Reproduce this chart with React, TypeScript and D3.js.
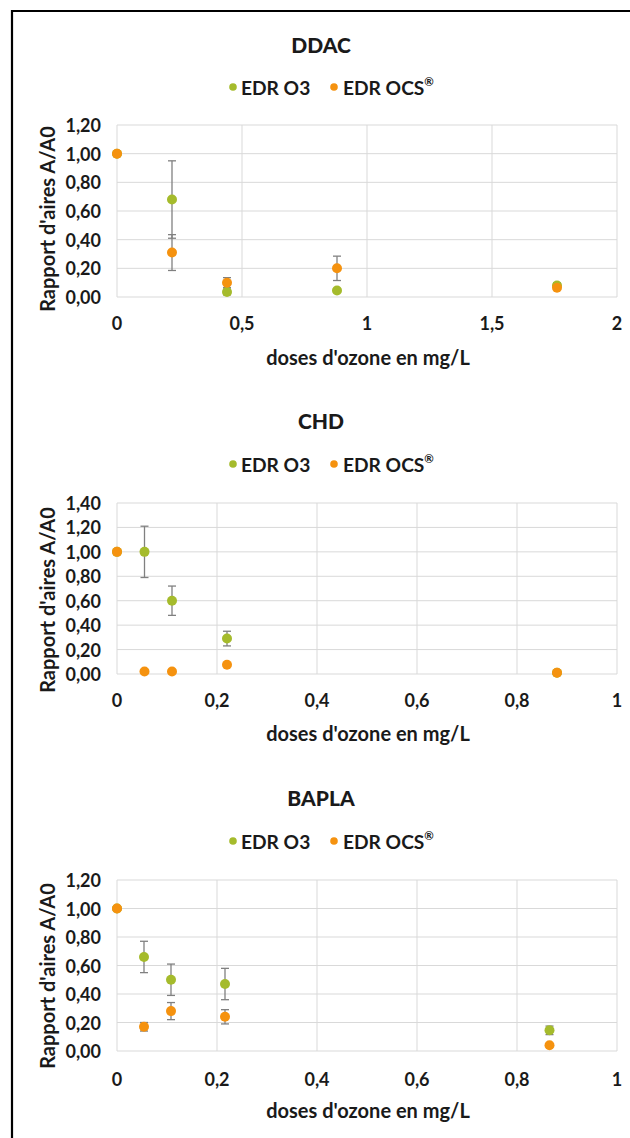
import React from "react";
import * as d3 from "d3";

// ---------- DATA ----------
const seriesNames = ["EDR O3", "EDR OCS"];

const ddacDoses = [0, 0.22, 0.44, 0.88, 1.76];
const ddacO3 = [1.0, 0.68, 0.035, 0.045, 0.08];
const ddacO3Err = [0, 0.27, 0.02, 0.01, 0.02];
const ddacOCS = [1.0, 0.31, 0.1, 0.2, 0.065];
const ddacOCSErr = [0, 0.125, 0.035, 0.085, 0.01];
const ddacXTicks = [0, 0.5, 1, 1.5, 2];
const ddacYTicks = [0, 0.2, 0.4, 0.6, 0.8, 1.0, 1.2];

const chdDoses = [0, 0.055, 0.11, 0.22, 0.88];
const chdO3 = [1.0, 1.0, 0.6, 0.29, 0.01];
const chdO3Err = [0, 0.21, 0.12, 0.06, 0];
const chdOCS = [1.0, 0.02, 0.02, 0.075, 0.01];
const chdOCSErr = [0, 0, 0, 0.01, 0];
const chdXTicks = [0, 0.2, 0.4, 0.6, 0.8, 1];
const chdYTicks = [0, 0.2, 0.4, 0.6, 0.8, 1.0, 1.2, 1.4];

const baplaDoses = [0, 0.054, 0.108, 0.216, 0.865];
const baplaO3 = [1.0, 0.66, 0.5, 0.47, 0.145];
const baplaO3Err = [0, 0.11, 0.11, 0.11, 0.03];
const baplaOCS = [1.0, 0.17, 0.28, 0.24, 0.04];
const baplaOCSErr = [0, 0.03, 0.06, 0.05, 0.01];
const baplaXTicks = [0, 0.2, 0.4, 0.6, 0.8, 1];
const baplaYTicks = [0, 0.2, 0.4, 0.6, 0.8, 1.0, 1.2];

const titles = ["DDAC", "CHD", "BAPLA"];
const xAxisTitle = "doses d'ozone en mg/L";
const yAxisTitle = "Rapport d'aires A/A0";

// ---------- STYLE / LAYOUT ----------
const W = 630;
const H = 1138;
const GREEN = "#a5bb2c";
const ORANGE = "#f5920f";
const GRID = "#d9d9d9";
const ERR = "#808080";
const FONT = "Lato, 'Open Sans', sans-serif";
const TEXT = "#1a1a1a";

const plotLeft = 117;
const plotRight = 617;

const panels = [
  {
    title: titles[0],
    doses: ddacDoses, o3: ddacO3, o3e: ddacO3Err, ocs: ddacOCS, ocse: ddacOCSErr,
    xTicks: ddacXTicks, yTicks: ddacYTicks,
    top: 125, bottom: 297, titleY: 44, legendY: 87, tickY: 323, xTitleY: 357, yTitleY: 219,
  },
  {
    title: titles[1],
    doses: chdDoses, o3: chdO3, o3e: chdO3Err, ocs: chdOCS, ocse: chdOCSErr,
    xTicks: chdXTicks, yTicks: chdYTicks,
    top: 503, bottom: 674, titleY: 420, legendY: 464, tickY: 700, xTitleY: 733, yTitleY: 600,
  },
  {
    title: titles[2],
    doses: baplaDoses, o3: baplaO3, o3e: baplaO3Err, ocs: baplaOCS, ocse: baplaOCSErr,
    xTicks: baplaXTicks, yTicks: baplaYTicks,
    top: 880, bottom: 1051, titleY: 797, legendY: 841, tickY: 1079, xTitleY: 1110, yTitleY: 976,
  },
];

const fmtY = (v: number) => d3.format(".2f")(v).replace(".", ",");
const fmtX = (v: number) => String(v).replace(".", ",");

function Panel({ p }: { p: (typeof panels)[number] }) {
  const xMax = p.xTicks[p.xTicks.length - 1];
  const yMax = p.yTicks[p.yTicks.length - 1];
  const x = d3.scaleLinear().domain([0, xMax]).range([plotLeft, plotRight]);
  const y = d3.scaleLinear().domain([0, yMax]).range([p.bottom, p.top]);
  const series = [
    { vals: p.o3, errs: p.o3e, color: GREEN },
    { vals: p.ocs, errs: p.ocse, color: ORANGE },
  ];
  const capHalf = 4;
  return (
    <g>
      <text x={321} y={p.titleY} textAnchor="middle" dominantBaseline="central"
        fontFamily={FONT} fontWeight="900" fontSize={21} fill={TEXT}>{p.title}</text>
      {/* legend */}
      <g fontFamily={FONT} fontWeight="bold" fontSize={19.2} fill={TEXT}>
        <circle cx={233} cy={p.legendY} r={3.8} fill={GREEN} />
        <text x={241} y={p.legendY} dominantBaseline="central">{seriesNames[0]}</text>
        <circle cx={334} cy={p.legendY} r={3.8} fill={ORANGE} />
        <text x={343} y={p.legendY} dominantBaseline="central">
          {seriesNames[1]}
          <tspan fontSize={11.5} dy={-6}>®</tspan>
        </text>
      </g>
      {/* grid */}
      {p.yTicks.map((t) => (
        <line key={"gy" + t} x1={plotLeft} x2={plotRight} y1={y(t)} y2={y(t)} stroke={GRID} strokeWidth={1} />
      ))}
      {p.xTicks.map((t) => (
        <line key={"gx" + t} x1={x(t)} x2={x(t)} y1={p.top} y2={p.bottom} stroke={GRID} strokeWidth={1} />
      ))}
      {/* y tick labels */}
      {p.yTicks.map((t) => (
        <text key={"ty" + t} x={101} y={y(t)} textAnchor="end" dominantBaseline="central"
          fontFamily={FONT} fontWeight="bold" fontSize={18} fill={TEXT}>{fmtY(t)}</text>
      ))}
      {/* x tick labels */}
      {p.xTicks.map((t) => (
        <text key={"tx" + t} x={x(t)} y={p.tickY} textAnchor="middle" dominantBaseline="central"
          fontFamily={FONT} fontWeight="bold" fontSize={18} fill={TEXT}>{fmtX(t)}</text>
      ))}
      <text x={(plotLeft + plotRight) / 2 + 1} y={p.xTitleY} textAnchor="middle" dominantBaseline="central"
        fontFamily={FONT} fontWeight="bold" fontSize={20} fill={TEXT}>{xAxisTitle}</text>
      <text transform={`translate(47,${p.yTitleY}) rotate(-90)`} textAnchor="middle" dominantBaseline="central"
        fontFamily={FONT} fontWeight="bold" fontSize={20} fill={TEXT}>{yAxisTitle}</text>
      {/* error bars */}
      {series.map((s, si) =>
        p.doses.map((d, i) =>
          s.errs[i] > 0 ? (
            <g key={`e${si}-${i}`} stroke={ERR} strokeWidth={1.3}>
              <line x1={x(d)} x2={x(d)} y1={y(s.vals[i] + s.errs[i])} y2={y(s.vals[i] - s.errs[i])} />
              <line x1={x(d) - capHalf} x2={x(d) + capHalf} y1={y(s.vals[i] + s.errs[i])} y2={y(s.vals[i] + s.errs[i])} />
              <line x1={x(d) - capHalf} x2={x(d) + capHalf} y1={y(s.vals[i] - s.errs[i])} y2={y(s.vals[i] - s.errs[i])} />
            </g>
          ) : null
        )
      )}
      {/* points */}
      {series.map((s, si) =>
        p.doses.map((d, i) => (
          <circle key={`p${si}-${i}`} cx={x(d)} cy={y(s.vals[i])} r={5} fill={s.color} />
        ))
      )}
    </g>
  );
}

export default function App() {
  return (
    <svg width={W} height={H} viewBox={`0 0 ${W} ${H}`}
      style={{ position: "absolute", left: 0, top: 0, display: "block", background: "#fff" }}>
      <rect x={0} y={0} width={W} height={H} fill="#fff" />
      <path d={`M 12 ${H + 2} V 11 H ${W + 2}`} fill="none" stroke="#000" strokeWidth={2.2} />
      {panels.map((p) => (
        <Panel key={p.title} p={p} />
      ))}
    </svg>
  );
}
